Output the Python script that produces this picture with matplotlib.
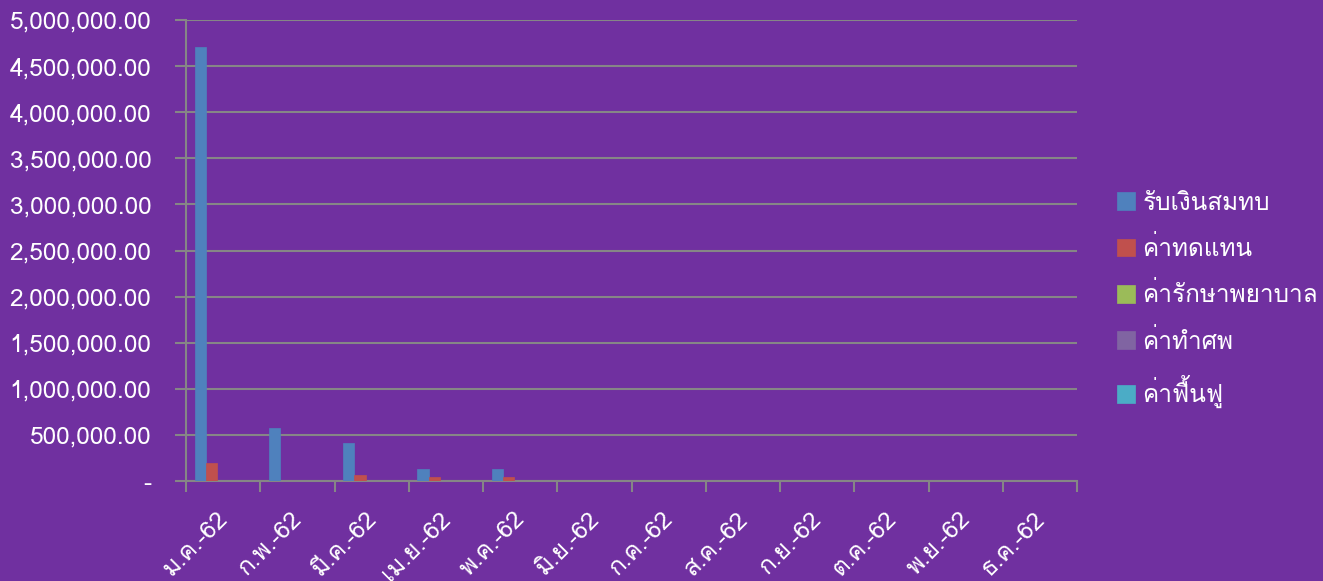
import matplotlib
matplotlib.use("Agg")
import matplotlib.pyplot as plt
import numpy as np
from matplotlib.ticker import FuncFormatter, FixedLocator
from matplotlib.transforms import ScaledTranslation

months = ["ม.ค.-62", "ก.พ.-62", "มี.ค.-62", "เม.ย.-62", "พ.ค.-62", "มิ.ย.-62",
          "ก.ค.-62", "ส.ค.-62", "ก.ย.-62", "ต.ค.-62", "พ.ย.-62", "ธ.ค.-62"]
series_names = ["รับเงินสมทบ", "ค่าทดแทน", "ค่ารักษาพยาบาล", "ค่าทำศพ", "ค่าฟื้นฟู"]
contrib = [4710000, 575000, 410000, 130000, 130000, 0, 0, 0, 0, 0, 0, 0]
compensation = [195000, 0, 65000, 40000, 40000, 0, 0, 0, 0, 0, 0, 0]
medical = [0] * 12
funeral = [0] * 12
rehab = [0] * 12
colors = ["#4F81BD", "#C0504D", "#9BBB59", "#8064A2", "#4BACC6"]

plt.rcParams['font.family'] = ["Loma", "DejaVu Sans"]

bg = "#7030A0"
grid = "#868686"
W, H = 1323, 581
fig = plt.figure(figsize=(W / 100, H / 100), dpi=100, facecolor=bg)
ax = fig.add_axes([186 / W, 1 - 481 / H, (1077 - 186) / W, (481 - 20) / H], facecolor=bg)

data = [contrib, compensation, medical, funeral, rehab]
x = np.arange(len(months))
w = 1 / 6.5
for i, (vals, c, n) in enumerate(zip(data, colors, series_names)):
    ax.bar(x - 2.5 * w + (i + 0.5) * w, vals, width=w, color=c, label=n,
           edgecolor=c, linewidth=0.5, zorder=3)

ax.set_xlim(-0.5, 11.5)
ax.set_ylim(0, 5000000)
ax.yaxis.set_major_locator(FixedLocator(np.arange(0, 5000001, 500000)))
ax.yaxis.set_major_formatter(FuncFormatter(lambda v, p: "-" if v == 0 else f"{v:,.2f}"))
ax.grid(axis='y', color=grid, linewidth=1.5, zorder=1)
ax.set_axisbelow(True)
for s in ['top', 'right']:
    ax.spines[s].set_visible(False)
for s in ['left', 'bottom']:
    ax.spines[s].set_color(grid)
    ax.spines[s].set_linewidth(1.5)

ax.set_xticks(np.arange(-0.5, 12, 1))
ax.set_xticklabels([])
ax.set_xticks(x, minor=True)
ax.set_xticklabels(months, minor=True, rotation=45, ha='right', va='top',
                   rotation_mode='anchor', color='white', fontsize=17.5)
ax.tick_params(axis='x', which='major', length=8, width=1.5, color=grid, direction='out')
ax.tick_params(axis='x', which='minor', length=0, pad=19)
ax.tick_params(axis='y', length=8, width=1.5, color=grid, labelcolor='white',
               labelsize=17.6, pad=17)
shift = ScaledTranslation(-7 / 100, 0, fig.dpi_scale_trans)
for lbl in ax.get_xticklabels(minor=True):
    lbl.set_transform(lbl.get_transform() + shift)

leg = fig.legend(loc='center left', bbox_to_anchor=(1117 / W, 1 - 300 / H), frameon=False,
                 fontsize=17.5, labelcolor='white', handlelength=0.75, handleheight=0.75,
                 handletextpad=0.3, labelspacing=0.88, borderaxespad=0, borderpad=0)

fig.savefig("out.png", dpi=100, facecolor=bg)
